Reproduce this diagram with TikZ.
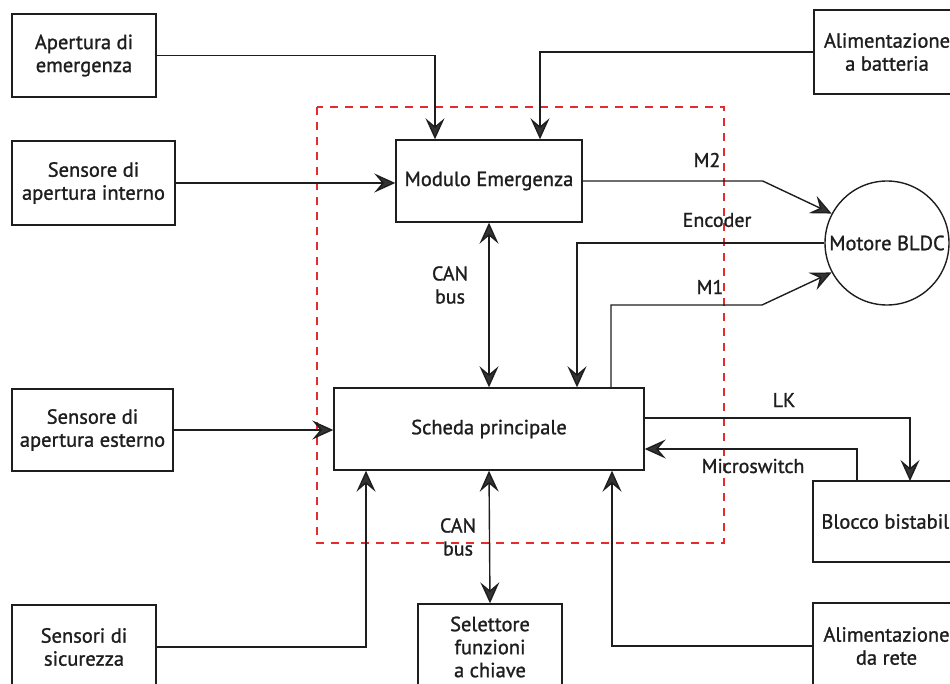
\documentclass[tikz,border=0pt]{standalone}
\usepackage{fontspec}
\setmainfont{PT Sans}
\newfontfamily\diagfont{PT Sans}[UprightFeatures={FakeBold=1.2}]
\usetikzlibrary{arrows.meta,calc}
\definecolor{ink}{HTML}{1E1E1E}
\definecolor{tipc}{HTML}{333333}
\definecolor{dred}{HTML}{E52B2B}
\begin{document}
\begin{tikzpicture}[x=1pt,y=-1pt,
  box/.style={draw=ink, line width=1.4pt, align=center, text=ink, inner sep=0pt,
    font=\diagfont\fontsize{20.5}{23}\selectfont},
  lbl/.style={text=ink, align=center, inner sep=0pt, font=\diagfont\fontsize{20}{23}\selectfont},
  wire/.style={draw=ink, line width=1.4pt},
  arr/.style={wire, -{Stealth[length=21pt,width=19pt,inset=8pt,fill=tipc]}},
  darr/.style={wire, {Stealth[length=21pt,width=19pt,inset=8pt,fill=tipc]}-{Stealth[length=21pt,width=19pt,inset=8pt,fill=tipc]}},
  frame/.style={draw=dred, line width=1.5pt, dash pattern=on 8pt off 7pt}]
\useasboundingbox (0,0) rectangle (950,684);
% dashed frame
\draw[frame] (317,107) rectangle (724,543);
% boxes
\node[box, minimum width=144, minimum height=83] (ae) at (84,55.5) {Apertura di\\emergenza};
\node[box, minimum width=163, minimum height=84] (si) at (93.5,183) {Sensore di\\apertura interno};
\node[box, minimum width=161, minimum height=82] (se) at (92.5,430) {Sensore di\\apertura esterno};
\node[box, minimum width=144, minimum height=84] (ss) at (84,647) {Sensori di\\sicurezza};
\node[box, minimum width=144, minimum height=86] (sel) at (490,647) {Selettore\\funzioni\\a chiave};
\node[box, minimum width=146, minimum height=84] (ab) at (887,52) {Alimentazione\\a batteria};
\node[box, minimum width=155, minimum height=81] (bb) at (890.5,521.5) {Blocco bistabile};
\node[box, minimum width=147, minimum height=86] (ar) at (886.5,646) {Alimentazione\\da rete};
\node[box, minimum width=186, minimum height=82] (mod) at (489,181) {Modulo Emergenza};
\node[box, minimum width=310, minimum height=82] (sch) at (489,429) {Scheda principale};
\node[box, circle, minimum size=124] (mot) at (887,243) {Motore BLDC};
% connectors
\draw[arr] (ae.east) -| ([xshift=-54pt]mod.north);
\draw[arr] (ab.west) -| ([xshift=51pt]mod.north);
\draw[arr] (si.east) -- (si.east -| mod.west);
\draw[arr] (mod.east) -- ++(180,0) -- (mot.152);
\draw[arr] (mot.west) -| ([xshift=88pt]sch.north);
\draw[arr] ([xshift=122pt]sch.north) |- (762,305) -- (mot.208);
\draw[darr] (mod.south) -- (sch.north);
\draw[arr] (se.east) -- (se.east -| sch.west);
\draw[arr] ([yshift=11pt]sch.east) -| (910,481);
\draw[arr] (857,481) |- ([yshift=-20pt]sch.east);
\draw[arr] (ss.east) -| ([xshift=-123pt]sch.south);
\draw[darr] (sch.south) -- (sel.north);
\draw[arr] (ar.west) -| ([xshift=123pt]sch.south);
% labels
\node[lbl] (lm2) at (707,160) {M2};
\node[lbl] (lenc) at (717,220) {Encoder};
\node[lbl] (lm1) at (710,287) {M1};
\node[lbl] (lcan1) at (450,285) {CAN\\bus};
\node[lbl] (lcan2) at (458,537) {CAN\\bus};
\node[lbl] (llk) at (784,400) {LK};
\node[lbl] (lms) at (753,466) {Microswitch};
\end{tikzpicture}
\end{document}
